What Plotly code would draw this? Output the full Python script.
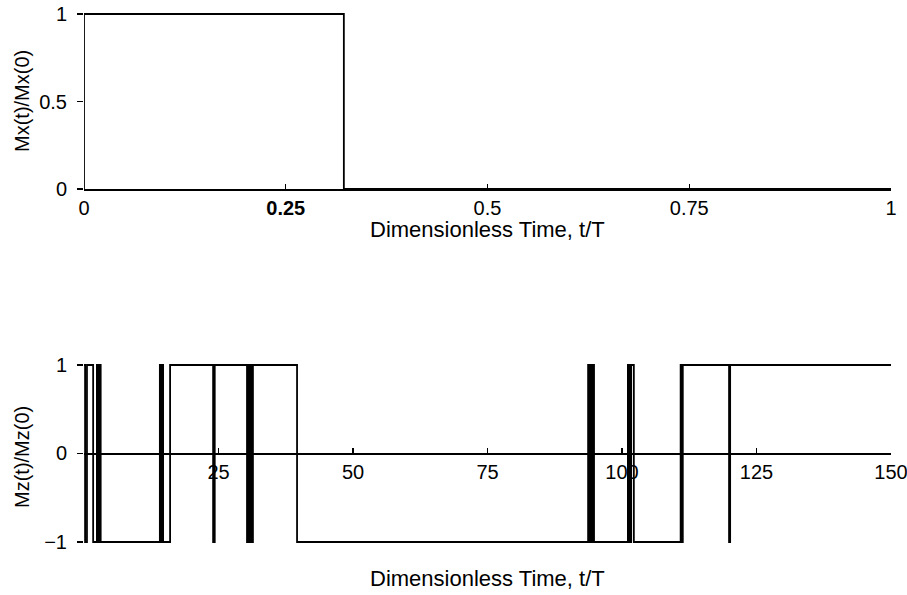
import plotly.graph_objects as go

# ---- data ----
mx_time = [0.0, 0.0, 0.322, 0.322, 1.0]
mx_value = [0, 1, 1, 0, 0]

mz_switch_time = [0.0, 0.2, 0.55, 1.7, 2.4, 2.6, 2.9, 3.1,
                  14.1, 14.3, 14.5, 14.7, 16.0, 24.0, 24.3,
                  30.3, 30.5, 30.8, 31.0, 31.2, 31.4, 39.6,
                  93.7, 93.9, 94.1, 94.3, 94.5, 94.8,
                  101.1, 101.4, 101.7, 102.2,
                  110.9, 111.1, 111.3, 119.9, 120.1, 150.0]
mz_value = [1, -1, 1, -1, 1, -1, 1, -1,
            1, -1, 1, -1, 1, -1, 1,
            -1, 1, -1, 1, -1, 1, -1,
            1, -1, 1, -1, 1, -1,
            1, -1, 1, -1,
            1, -1, 1, -1, 1, 1]

top_tickvals = [0, 0.25, 0.5, 0.75, 1]
top_ticktext = ["0", "<b>0.25</b>", "0.5", "0.75", "1"]
bot_tickvals = [25, 50, 75, 100, 125, 150]
bot_ticktext = ["25", "50", "75", "100", "125", "150"]

x_title = "Dimensionless Time, t/T"
y_title_top = "Mx(t)/Mx(0)"
y_title_bot = "Mz(t)/Mz(0)"

FONT = "Liberation Sans, Arial, Helvetica, sans-serif"
W, H = 907.0, 595.0

def py(p):
    return (H - p) / H

PL, PR = 84.0, 891.0  # plot area in px
PW = PR - PL

def px(p):
    return (p - PL) / PW

fig = go.Figure()
fig.add_trace(go.Scatter(x=mx_time, y=mx_value, mode="lines",
                         line=dict(color="black", width=1.8),
                         xaxis="x", yaxis="y", showlegend=False,
                         hoverinfo="skip"))
fig.add_trace(go.Scatter(x=mz_switch_time, y=mz_value, mode="lines",
                         line=dict(color="black", width=1.8, shape="hv"),
                         xaxis="x2", yaxis="y2", showlegend=False,
                         hoverinfo="skip"))

top_dom = [py(189), py(189 - 1.02 * 175)]
bot_dom = [py(453.5 + 1.03 * 88.5), py(453.5 - 1.03 * 88.5)]
bot_mid = (bot_dom[0] + bot_dom[1]) / 2

tickfont = dict(family=FONT, size=20, color="black")
common = dict(automargin=False, showgrid=False, zeroline=False,
              tickcolor="black", tickwidth=1.2, tickfont=tickfont,
              ticklabeloverflow="allow")

fig.update_layout(
    template="none",
    width=int(W), height=int(H),
    margin=dict(l=PL, r=W - PR, t=0, b=0, pad=0),
    paper_bgcolor="white", plot_bgcolor="white",
    font=dict(family=FONT, size=20, color="black"),
    xaxis=dict(domain=[0, 1], range=[0, 1], anchor="y",
               showline=True, linecolor="black", linewidth=2,
               ticks="inside", ticklen=5,
               tickvals=top_tickvals, ticktext=top_ticktext,
               ticklabelstandoff=0, **common),
    yaxis=dict(domain=top_dom, range=[0, 1.02], anchor="x",
               showline=False, ticks="outside", ticklen=6,
               tickvals=[0, 0.5, 1], ticktext=["0", "0.5", "1"],
               ticklabelstandoff=6, **common),
    xaxis2=dict(domain=[0, 1], range=[0, 150], anchor="free",
                position=bot_mid,
                showline=True, linecolor="black", linewidth=2.2,
                ticks="inside", ticklen=5,
                tickvals=bot_tickvals, ticktext=bot_ticktext,
                ticklabelstandoff=0, **common),
    yaxis2=dict(domain=bot_dom, range=[-1.03, 1.03], anchor="x2",
                showline=False, ticks="outside", ticklen=6,
                tickvals=[-1, 0, 1], ticktext=["\u22121", "0", "1"],
                ticklabelstandoff=6, **common),
    annotations=[
        dict(text=x_title, xref="paper", yref="paper", x=px(487), y=py(230),
             xanchor="center", yanchor="middle", showarrow=False,
             font=dict(family=FONT, size=22, color="black")),
        dict(text=x_title, xref="paper", yref="paper", x=px(487), y=py(578),
             xanchor="center", yanchor="middle", showarrow=False,
             font=dict(family=FONT, size=22, color="black")),
        dict(text=y_title_top, xref="paper", yref="paper",
             x=px(22), y=py(101), textangle=-90,
             xanchor="center", yanchor="middle", showarrow=False,
             font=dict(family=FONT, size=20, color="black")),
        dict(text=y_title_bot, xref="paper", yref="paper",
             x=px(22), y=py(457), textangle=-90,
             xanchor="center", yanchor="middle", showarrow=False,
             font=dict(family=FONT, size=20, color="black")),
    ],
)

fig.write_html(
    "out.html",
    config={"displayModeBar": False, "staticPlot": True},
    post_script="document.body.style.margin='0';"
                "document.body.style.overflow='hidden';",
)
